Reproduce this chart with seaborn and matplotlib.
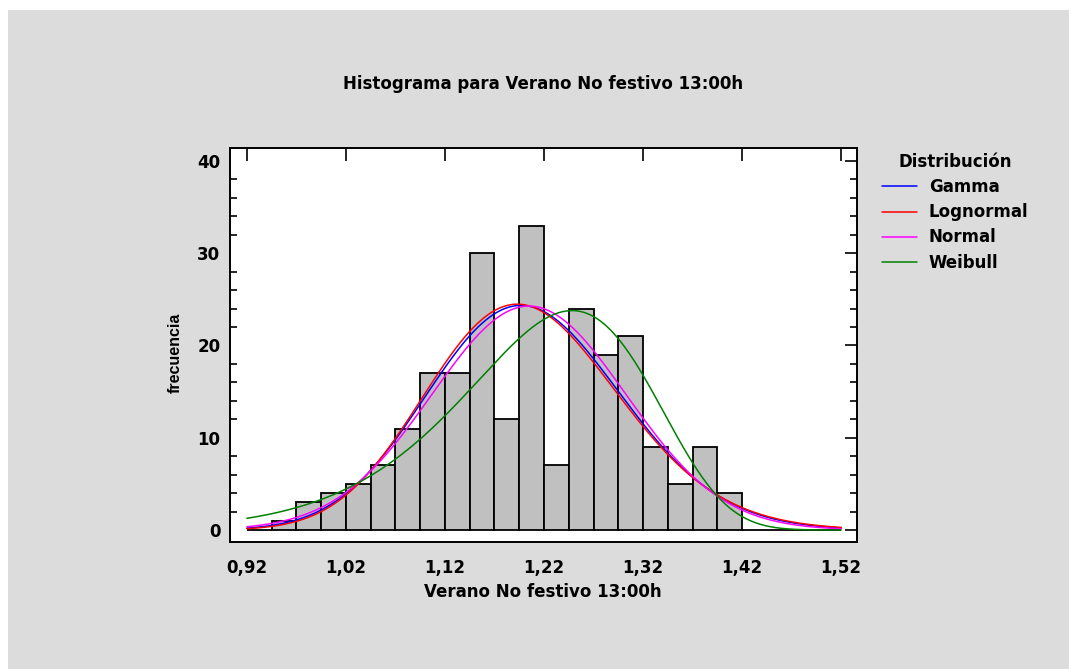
import math
import numpy as np
import pandas as pd
import matplotlib
matplotlib.use("Agg")
import matplotlib.pyplot as plt
from matplotlib.patches import Rectangle
from matplotlib.ticker import FixedLocator, MultipleLocator, FuncFormatter
from matplotlib.lines import Line2D
import seaborn as sns

# ---- data ----
bin_edges = [0.92 + 0.025 * i for i in range(25)]
counts = [0, 1, 3, 4, 5, 7, 11, 17, 17, 30, 12, 33,
          7, 24, 19, 21, 9, 5, 9, 4, 0, 0, 0, 0]
x_ticks = [0.92, 1.02, 1.12, 1.22, 1.32, 1.42, 1.52]
y_ticks = [0, 10, 20, 30, 40]
dist_names = ["Gamma", "Lognormal", "Normal", "Weibull"]
dist_colors = ["#0000FF", "#FF0000", "#FF00FF", "#008000"]

# fitted distribution parameters
n_obs = sum(counts)
bin_width = 0.025
normal_mean, normal_sd = 1.2048, 0.0978
gamma_shape, gamma_scale = 151.8, 0.007936
lognorm_mu, lognorm_sigma = 0.18303, 0.08103
weibull_shape, weibull_scale = 13.6, 1.2554

title = "Histograma para Verano No festivo 13:00h"
xlabel = "Verano No festivo 13:00h"
ylabel = "frecuencia"
legend_title = "Distribución"

# ---- fitted curves (scaled to counts) ----
xs = np.linspace(0.92, 1.52, 400)
scale = n_obs * bin_width
pdf_normal = np.exp(-0.5 * ((xs - normal_mean) / normal_sd) ** 2) / (normal_sd * math.sqrt(2 * math.pi))
pdf_gamma = np.exp((gamma_shape - 1) * np.log(xs) - xs / gamma_scale
                   - math.lgamma(gamma_shape) - gamma_shape * math.log(gamma_scale))
pdf_lognorm = np.exp(-0.5 * ((np.log(xs) - lognorm_mu) / lognorm_sigma) ** 2) / (xs * lognorm_sigma * math.sqrt(2 * math.pi))
z = xs / weibull_scale
pdf_weibull = (weibull_shape / weibull_scale) * z ** (weibull_shape - 1) * np.exp(-z ** weibull_shape)

curves = pd.DataFrame({
    "x": np.concatenate([xs] * 4),
    "y": np.concatenate([pdf_gamma, pdf_lognorm, pdf_normal, pdf_weibull]) * scale,
    "dist": np.repeat(dist_names, len(xs)),
})
mids = [(bin_edges[i] + bin_edges[i + 1]) / 2 for i in range(len(counts))]
hist_df = pd.DataFrame({"x": mids, "w": counts})

# ---- figure ----
sns.set_style("white")
plt.rcParams["font.family"] = ["DejaVu Sans"]
plt.rcParams["text.color"] = "black"
plt.rcParams["axes.labelcolor"] = "black"
plt.rcParams["xtick.color"] = "black"
plt.rcParams["ytick.color"] = "black"
FS = 12
W, H = 1069, 669
fig = plt.figure(figsize=(W / 100, H / 100), dpi=100, facecolor="white")
fig.patches.append(Rectangle((8 / W, 0), 1, 1 - 10 / H, transform=fig.transFigure,
                             facecolor="#DCDCDC", edgecolor="none", zorder=-10))

ax = fig.add_axes([230 / W, 1 - 542 / H, (857 - 230) / W, (542 - 148) / H])
ax.set_facecolor("white")

sns.histplot(data=hist_df, x="x", weights="w", bins=bin_edges, ax=ax,
             color="#C0C0C0", alpha=1, edgecolor="black", linewidth=1.3, zorder=2)
sns.lineplot(data=curves, x="x", y="y", hue="dist", hue_order=dist_names,
             palette=dist_colors, ax=ax, legend=False, linewidth=1.1, zorder=3)

ax.set_xlim(0.903, 1.536)
ax.set_ylim(-1.3, 41.4)
ax.xaxis.set_major_locator(FixedLocator(x_ticks))
ax.yaxis.set_major_locator(FixedLocator(y_ticks))
ax.yaxis.set_minor_locator(MultipleLocator(2))
ax.xaxis.set_major_formatter(FuncFormatter(lambda v, p: f"{v:.2f}".replace(".", ",")))
ax.yaxis.set_major_formatter(FuncFormatter(lambda v, p: f"{v:.0f}"))
ax.tick_params(axis="both", which="major", direction="in", length=9, width=1.2,
               top=True, right=True, labelsize=FS, color="black", labelcolor="black")
ax.tick_params(axis="x", which="major", pad=12)
ax.tick_params(axis="y", which="major", pad=7)
ax.tick_params(axis="y", which="minor", direction="in", length=5, width=1.2,
               left=True, right=True, color="black")
for lbl in ax.get_xticklabels() + ax.get_yticklabels():
    lbl.set_fontweight("bold")
for s in ax.spines.values():
    s.set_visible(True)
    s.set_linewidth(1.4)
    s.set_color("black")

ax.set_xlabel("")
ax.set_ylabel("")
fig.text(543 / W, 1 - 592 / H, xlabel, ha="center", va="center",
         fontsize=FS, fontweight="bold", color="black")
fig.text(175 / W, 1 - 353 / H, ylabel, ha="center", va="center", rotation=90,
         fontsize=11.5, fontweight="bold", color="black",
         family=["Liberation Sans Narrow", "Liberation Sans", "DejaVu Sans"])
fig.text(543 / W, 1 - 84 / H, title, ha="center", va="center",
         fontsize=FS, fontweight="bold", color="black")

handles = [Line2D([], [], color=c, linewidth=1.1) for c in dist_colors]
leg = fig.legend(handles, dist_names, loc="upper left",
                 bbox_to_anchor=(882 / W, 1 - 153 / H), frameon=False,
                 prop={"weight": "bold", "size": FS}, title=legend_title,
                 title_fontproperties={"weight": "bold", "size": FS},
                 handlelength=2.1, handletextpad=0.72, labelspacing=0.43,
                 borderpad=0, borderaxespad=0)
for t in leg.get_texts():
    t.set_color("black")
leg.get_title().set_color("black")

fig.savefig("out.png", dpi=100, facecolor=fig.get_facecolor())
